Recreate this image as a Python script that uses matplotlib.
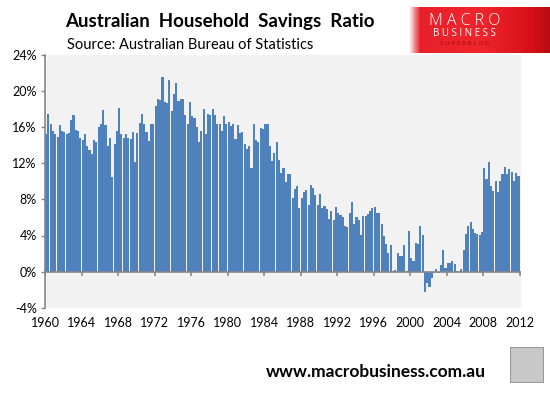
import numpy as np
import matplotlib.pyplot as plt
from matplotlib.colors import LinearSegmentedColormap
from matplotlib.patches import Rectangle

plt.rcParams['font.family'] = ['Lato', 'DejaVu Sans']

# quarterly household savings ratio (%), 1960Q1 .. 2011Q4
savings = [
    15.3, 17.5, 16.4, 15.6,  15.2, 14.9, 16.2, 15.6,  15.5, 15.3, 15.4, 16.8,  17.4, 15.7, 15.6, 14.8,  # 1960-63
    14.6, 15.3, 13.9, 13.5,  13.0, 14.6, 14.4, 16.0,  16.4, 17.9, 16.2, 13.9,  14.8, 10.5, 14.1, 15.6,  # 1964-67
    18.1, 15.3, 14.8, 15.3,  14.8, 14.7, 15.5, 12.1,  15.4, 16.5, 17.5, 16.3,  15.5, 14.5, 16.4, 16.4,  # 1968-71
    18.4, 19.1, 19.0, 21.6,  18.8, 18.7, 21.2, 17.8,  19.7, 20.9, 18.9, 19.1,  19.1, 17.4, 16.3, 18.8,  # 1972-75
    17.2, 17.0, 16.0, 14.4,  15.6, 18.0, 15.3, 17.5,  17.3, 18.0, 17.4, 16.4,  16.3, 15.6, 17.2, 16.3,  # 1976-79
    16.6, 16.1, 16.3, 14.7,  16.2, 15.4, 15.5, 14.1,  13.6, 13.9, 11.5, 16.3,  14.6, 14.4, 15.9, 15.8,  # 1980-83
    16.4, 16.3, 13.9, 12.3,  13.1, 14.4, 12.4, 10.9,  11.5, 9.9, 10.8, 10.8,   8.2, 9.1, 9.5, 7.1,      # 1984-87
    8.2, 8.8, 9.0, 7.4,      9.6, 9.3, 8.5, 7.4,      8.6, 7.0, 7.3, 6.9,      5.8, 6.7, 5.7, 7.2,      # 1988-91
    6.5, 6.3, 6.0, 5.1,      4.9, 6.5, 7.7, 5.3,      6.0, 5.7, 4.1, 6.2,      6.2, 6.4, 6.7, 7.0,      # 1992-95
    7.2, 6.5, 6.5, 5.3,      4.0, 3.1, 2.1, 3.0,      0.1, 0.2, 2.1, 1.7,      1.7, 3.0, 0.1, 4.5,      # 1996-99
    1.55, 1.2, 3.2, 3.1,     5.1, 4.1, -2.3, -1.3,    -1.7, -0.7, -0.2, 0.3,   -0.2, 0.7, 2.4, 0.44,    # 2000-03
    0.9, 1.0, 1.2, 0.8,      0.05, -0.05, 0.33, 2.4,  4.2, 5.0, 5.5, 4.75,     4.3, 4.2, 4.1, 4.4,      # 2004-07
    11.5, 10.3, 12.15, 9.5,  8.95, 10.05, 8.85, 10.05, 10.8, 11.6, 10.8, 11.4, 11.05, 10.05, 10.9, 10.6,  # 2008-11
]
year_labels = [str(y) for y in range(1960, 2013, 4)]
y_ticks = [-4, 0, 4, 8, 12, 16, 20, 24]

bar_col = '#4f81bd'
axis_col = '#868686'

W, H = 550, 393
fig = plt.figure(figsize=(W / 100, H / 100), dpi=100)
ax = fig.add_axes([45 / W, 1 - 307.7 / H, 476 / W, 252.7 / H])
ax.set_facecolor('#f2f2f2')

n = len(savings)
xpos = np.arange(n) + 0.5
ax.bar(xpos, savings, width=0.92, color=bar_col, linewidth=0, antialiased=False, zorder=2)

tick_pos = np.arange(0, n + 1, 16)
ax.set_xlim(0, n + 0.6)
ax.set_ylim(-4, 24)

# horizontal axis drawn on the zero line, labels kept low
ax.axhline(0, color=axis_col, lw=1.2, zorder=3)
ax.vlines(tick_pos, -0.45, 0, color=axis_col, lw=1.2, zorder=3)
ax.set_xticks(tick_pos)
ax.set_xticklabels(year_labels, fontsize=9)
ax.tick_params(axis='x', length=0, pad=7)

ax.set_yticks(y_ticks)
ax.set_yticklabels(['%d%%' % v for v in y_ticks], fontsize=9)
ax.tick_params(axis='y', direction='out', length=3, width=1, color=axis_col, pad=3)

for s in ['top', 'right', 'bottom']:
    ax.spines[s].set_visible(False)
ax.spines['left'].set_color(axis_col)
ax.spines['left'].set_linewidth(1.2)

# titles
fig.text(65 / W, 1 - 21 / H, 'Australian  Household  Savings  Ratio', fontsize=13.5,
         fontweight='bold', va='center', ha='left')
fig.text(67 / W, 1 - 45 / H, 'Source: Australian Bureau of Statistics', fontsize=10.5,
         va='center', ha='left')

# logo block
lax = fig.add_axes([410 / W, 1 - 53 / H, 140 / W, 46 / H])
red = LinearSegmentedColormap.from_list(
    'logo', [(0, '#fbe0e0'), (0.07, '#e8202a'), (0.5, '#f0262c'), (0.85, '#d81018'), (1, '#b80c12')])
grad = np.tile(np.linspace(0, 1, 280), (20, 1))
lax.imshow(grad, cmap=red, aspect='auto', extent=[0, 1, 0, 1])
lax.set_xlim(0, 1)
lax.set_ylim(0, 1)
lax.axis('off')
lax.text(0.39, 0.70, 'M A C R O', color='white', fontsize=11.5, ha='center', va='center',
         fontweight='light', family=['Open Sans', 'DejaVu Sans'])
lax.text(0.39, 0.43, 'B U S I N E S S', color='white', fontsize=7, ha='center', va='center',
         family=['Open Sans', 'DejaVu Sans'])
lax.text(0.39, 0.20, 'S U P E R B L O G', color='#a00c10', fontsize=4.5, ha='center', va='center')

# footer
fig.text(376 / W, 1 - 372 / H, 'www.macrobusiness.com.au', fontsize=12.5, fontweight='bold',
         ha='center', va='center')
fax = fig.add_axes([510 / W, 1 - 383 / H, 34 / W, 36 / H])
fax.add_patch(Rectangle((0, 0), 1, 1, facecolor='#c8c8c8', edgecolor='#999999', lw=1.5))
fax.set_xlim(0, 1)
fax.set_ylim(0, 1)
fax.axis('off')

fig.savefig('out.png', dpi=100)
